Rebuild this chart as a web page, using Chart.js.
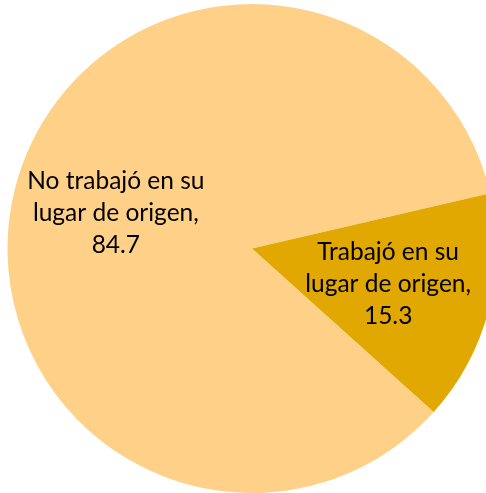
<!DOCTYPE html>
<html>
<head>
<meta charset="utf-8">
<script src="https://cdn.jsdelivr.net/npm/chart.js@4/dist/chart.umd.min.js"></script>
<style>
  html, body { margin: 0; padding: 0; background: #fff; overflow: hidden; }
  #wrap { position: absolute; left: 0; top: 4px; width: 504px; height: 489px; }
</style>
</head>
<body>
<div id="wrap"><canvas id="myChart"></canvas></div>
<script>
// data
var labels = [['No trabajó en su', 'lugar de origen,'], ['Trabajó en su', 'lugar de origen,']];
var values = [84.7, 15.3];
var colors = ['#FFD188', '#E0A800'];

// draws "name, value" inside each slice
var sliceLabels = {
    id: 'sliceLabels',
    afterDatasetsDraw: function(chart) {
        var ctx = chart.ctx;
        var meta = chart.getDatasetMeta(0);
        ctx.save();
        ctx.fillStyle = '#000';
        ctx.font = '24.5px Lato';
        ctx.textAlign = 'center';
        ctx.textBaseline = 'middle';
        meta.data.forEach(function(arc, i) {
            var p = arc.getProps(['x', 'y', 'startAngle', 'endAngle', 'outerRadius'], true);
            var mid = (p.startAngle + p.endAngle) / 2;
            var r = p.outerRadius * 0.575;
            var cx = p.x + Math.cos(mid) * r;
            var cy = p.y + Math.sin(mid) * r;
            var lines = labels[i].concat([values[i].toFixed(1)]);
            var lh = 32;
            lines.forEach(function(t, k) {
                ctx.fillText(t, cx, cy + (k - 1) * lh);
            });
        });
        ctx.restore();
    }
};

var ctx = document.getElementById('myChart').getContext('2d');
var chart = new Chart(ctx, {
    type: 'pie',
    data: {
        labels: labels,
        datasets: [{
            data: values,
            backgroundColor: colors,
            borderWidth: 0
        }]
    },
    options: {
        responsive: true,
        maintainAspectRatio: false,
        animation: false,
        rotation: 132,
        layout: { padding: 0 },
        plugins: {
            legend: { display: false },
            tooltip: { enabled: false }
        }
    },
    plugins: [sliceLabels]
});
</script>
</body>
</html>
